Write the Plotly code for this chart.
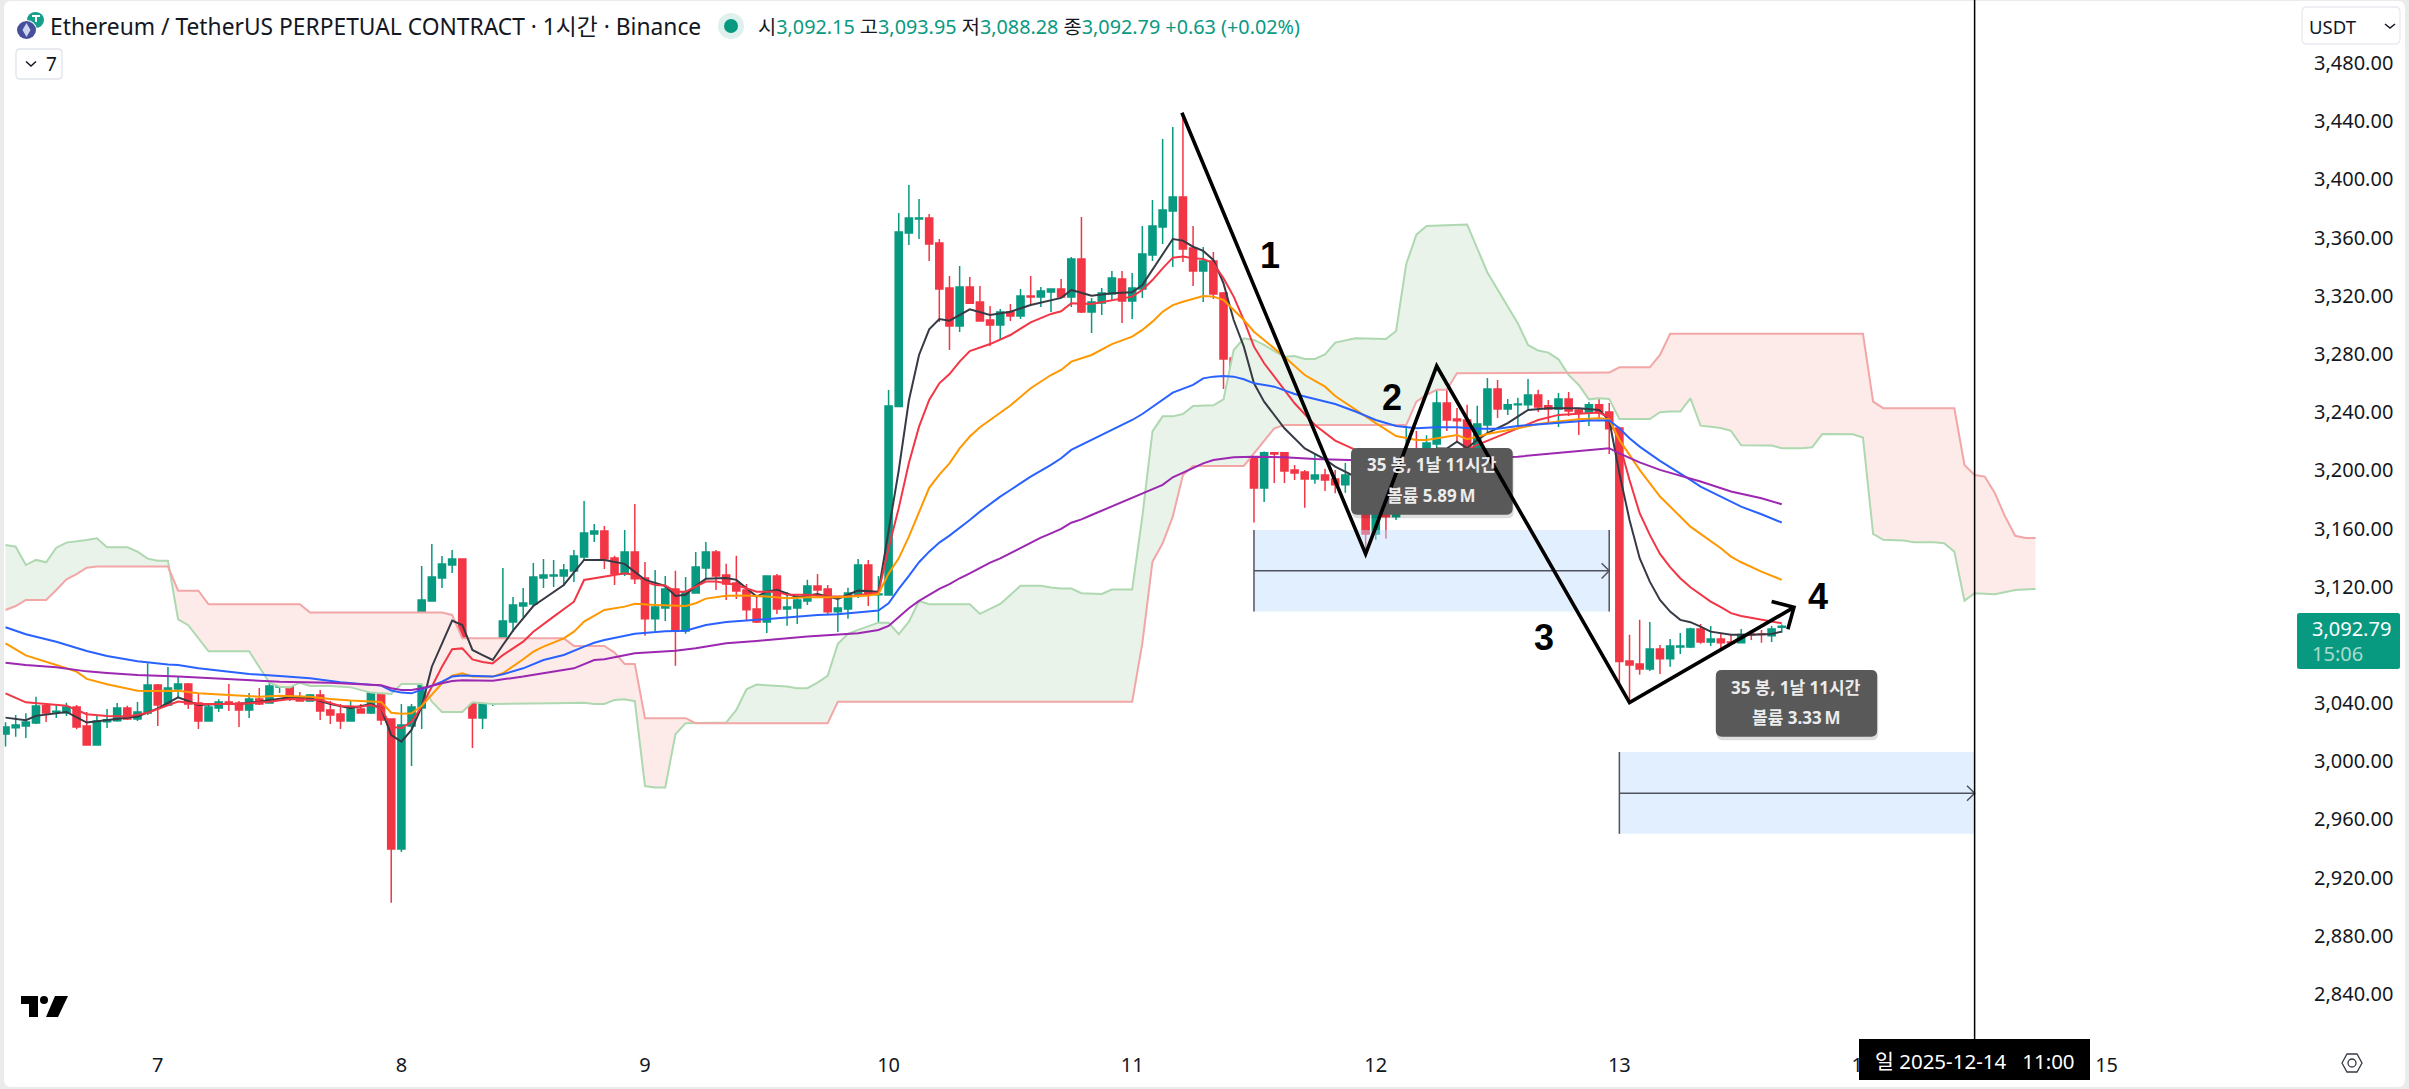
import plotly.graph_objects as go

# Hours are counted from 2025-12-08 00:00 (tick label "8")
opens = [
    3018.8, 3023.1, 3024.3, 3026.3, 3038.2, 3033.9, 3033.4, 3037.3, 3024.3, 3011.2,
    3027.2, 3027.9, 3036.6, 3029.1, 3033.2, 3052.4, 3038.7, 3049.7, 3053.1, 3040.1,
    3027.7, 3036.6, 3040.8, 3040.1, 3035.3, 3042.8, 3040.1, 3051.1, 3051.8, 3044.2,
    3041.5, 3045.6, 3035.3, 3032.5, 3027.7, 3036, 3033.2, 3047, 3029.1, 2939.7,
    3024.3, 3036.6, 3110.2, 3126, 3134.9, 3139, 3083.4, 3029.8, 3056.6, 3060,
    3095.7, 3106.7, 3108.1, 3126, 3127.4, 3127.4, 3130.8, 3140.4, 3156.2, 3158.3,
    3139.8, 3128.8, 3143.9, 3126, 3097.9, 3105.4, 3118.5, 3089.6, 3115.7, 3132.9,
    3143.9, 3128.1, 3122.6, 3117.8, 3104.7, 3095.8, 3127.4, 3104.7, 3105.4, 3110.2,
    3120.5, 3118.5, 3102.7, 3104.7, 3115, 3135, 3114.4, 3114.3, 3243.8, 3363.1,
    3372.8, 3373.4, 3356.3, 3325.3, 3299.2, 3326, 3315.7, 3303.3, 3299.9, 3308.8,
    3306.1, 3319.8, 3319.1, 3322.6, 3324.6, 3319.1, 3345.3, 3308.8, 3315, 3321.2,
    3331.5, 3316.4, 3324.6, 3348, 3367.3, 3378.3, 3387.9, 3352.8, 3337, 3343.9,
    3321.9, 3277.2, 3252.5, 3209.2, 3187.9, 3212, 3212, 3200.3, 3198.9, 3194.1,
    3196.8, 3194.1, 3190, 3196.8, 3182, 3156.3, 3178, 3168, 3183, 3198,
    3193, 3218.1, 3246.3, 3235.3, 3234.6, 3214, 3231.2, 3255.9, 3242.2, 3245,
    3245, 3251.8, 3244.3, 3242.2, 3249.1, 3241.5, 3239.5, 3245, 3240.1, 3229.1,
    3069, 3066.9, 3063.5, 3077.2, 3070.4, 3078.6, 3078.6, 3091, 3082, 3084.1,
    3082, 3081.4, 3087.5, 3087.5, 3086.2, 3092.15,
]
highs = [
    3026.8, 3031.8, 3033, 3044.4, 3039.8, 3038, 3040.3, 3038.7, 3033.9, 3031.1,
    3036, 3040.1, 3038.2, 3040.8, 3067.3, 3053.1, 3064.8, 3058.2, 3053.8, 3046.3,
    3038.7, 3042.6, 3053.1, 3041.5, 3047, 3050.4, 3055.9, 3054.5, 3055.9, 3047.6,
    3046.3, 3049, 3041.5, 3039.4, 3042.1, 3039.4, 3049, 3052.4, 3029.5, 3039.4,
    3039.4, 3134.2, 3149.4, 3141.1, 3145.2, 3139.5, 3083.8, 3062.8, 3075.1, 3132.9,
    3112.9, 3119.1, 3136.3, 3139, 3138.4, 3135.6, 3145.2, 3178.9, 3163.1, 3161.8,
    3141.2, 3159, 3176.9, 3137, 3131.5, 3127.4, 3130.9, 3126.7, 3143.9, 3150.8,
    3145.3, 3135.7, 3141.2, 3121.9, 3114.4, 3127.4, 3128.8, 3116.4, 3114.4, 3124.7,
    3128.8, 3121.2, 3110.9, 3119.2, 3139.1, 3138.4, 3127.4, 3255.2, 3376.9, 3396.1,
    3386.5, 3376.2, 3359, 3333.6, 3340.5, 3332.9, 3326.7, 3313, 3310.9, 3314.3,
    3324.6, 3333.6, 3326, 3324.8, 3331.5, 3346.6, 3374.1, 3318.5, 3325.3, 3337,
    3337, 3335.6, 3367.9, 3385.8, 3427.7, 3436, 3443, 3367.9, 3353.5, 3350.1,
    3322.5, 3277.9, 3253.9, 3209.5, 3212.9, 3212.6, 3212.6, 3203.7, 3200.3, 3211.3,
    3201, 3200.3, 3205.1, 3198, 3184, 3181, 3185, 3188, 3231.2, 3227.1,
    3224.1, 3270, 3255.3, 3242.9, 3245, 3244.3, 3263.5, 3262.1, 3249.1, 3249.8,
    3262.8, 3255.3, 3248.4, 3253.2, 3253.9, 3242.9, 3247, 3249.8, 3246.3, 3230,
    3086.9, 3097.2, 3095.8, 3080, 3084.1, 3088.2, 3091.7, 3094.4, 3093, 3087.5,
    3086.9, 3091, 3090.3, 3090.3, 3093, 3093.95,
]
lows = [
    3010.1, 3016.9, 3016, 3025.6, 3027, 3029.8, 3031.1, 3022, 3011.2, 3011.2,
    3022.9, 3027.2, 3028.4, 3027.7, 3031.8, 3024.3, 3038, 3043.5, 3036, 3022.2,
    3027.7, 3033.9, 3034.6, 3023.6, 3029.8, 3038.7, 3040.1, 3047, 3041.5, 3041.5,
    3041.5, 3028.4, 3025.6, 3022.2, 3027.7, 3033.2, 3032.5, 3025, 2902.8, 2937.7,
    2996.8, 3022.2, 3110.2, 3119.1, 3129.4, 3066.2, 3009.2, 3022.2, 3038, 3059.3,
    3088.9, 3099.2, 3106.1, 3119.1, 3119.8, 3120.5, 3123.2, 3138.4, 3150.7, 3132.2,
    3121.2, 3127.4, 3121.9, 3086.2, 3089.6, 3096.5, 3065.6, 3087.6, 3115.7, 3124.7,
    3117.8, 3110.9, 3111.6, 3096.5, 3095.1, 3088.2, 3101.3, 3093.1, 3094.4, 3107.5,
    3114.4, 3101.3, 3088.9, 3097.9, 3112.3, 3106.8, 3095.8, 3113.7, 3243.8, 3354.9,
    3359, 3343.9, 3302, 3282.7, 3295.1, 3314.3, 3302.7, 3285.5, 3289.6, 3302.7,
    3304, 3313, 3312.3, 3308.8, 3318.5, 3312.3, 3308.2, 3294.4, 3306.8, 3316.4,
    3301.3, 3304, 3318.5, 3343.9, 3355.6, 3339.8, 3343.2, 3326.7, 3315.7, 3317.8,
    3255.9, 3240.8, 3204.4, 3164.1, 3178.3, 3191.3, 3191.3, 3193.4, 3174.2, 3190.7,
    3185.8, 3184.2, 3184.5, 3178, 3142.5, 3152.2, 3152.9, 3165.9, 3177, 3186,
    3188, 3212, 3227.1, 3220.2, 3205, 3208, 3225, 3236, 3238.1, 3229.8,
    3242.2, 3240.1, 3231.9, 3229.8, 3237.4, 3224.3, 3230.5, 3235.3, 3211.3, 3053.6,
    3041, 3059.4, 3062.1, 3060, 3064.9, 3073.8, 3077.9, 3080.7, 3079.3, 3077.9,
    3080.7, 3081.4, 3083.4, 3081.4, 3082, 3088.28,
]
closes = [
    3023.6, 3025, 3027, 3038, 3033.2, 3034.4, 3037.3, 3023.6, 3011.2, 3027.7,
    3028.6, 3036.6, 3029.1, 3033.9, 3052.4, 3038.7, 3050.4, 3053.1, 3039.4, 3027.7,
    3037.3, 3040.8, 3039.4, 3035.3, 3042.8, 3039.4, 3051.8, 3051.8, 3042.8, 3041.5,
    3045.6, 3034.6, 3031.8, 3027.7, 3036, 3033.2, 3047, 3028.4, 2939.7, 3025,
    3037.3, 3110.9, 3126.7, 3135.6, 3139, 3082.7, 3029.8, 3057.9, 3060.7, 3096.4,
    3107.4, 3108.8, 3126.7, 3128.1, 3128.1, 3131.5, 3141.1, 3156.9, 3158.3, 3139.1,
    3128.8, 3143.9, 3125.4, 3097.9, 3106.1, 3118.5, 3089.6, 3116.4, 3133.6, 3143.9,
    3127.4, 3121.9, 3117.1, 3104.1, 3095.8, 3127.4, 3104.7, 3106.1, 3110.9, 3120.5,
    3117.8, 3102.7, 3105.4, 3115.7, 3135, 3114.4, 3115, 3244.2, 3363.8, 3373.4,
    3373.4, 3355.6, 3324.6, 3299.2, 3326, 3314.8, 3302.7, 3299.9, 3308.8, 3306.1,
    3319.8, 3319.1, 3323.3, 3324.6, 3319.1, 3345.3, 3308.8, 3315.7, 3321.9, 3332.2,
    3316.4, 3325.3, 3348.7, 3367.9, 3378.9, 3387.9, 3352.1, 3337, 3343.9, 3321.2,
    3276.5, 3251.8, 3208.5, 3187.9, 3212, 3211.3, 3199.6, 3198.2, 3194.1, 3196.8,
    3193.4, 3190, 3196.8, 3182, 3156.3, 3178, 3168, 3183, 3198, 3193,
    3218.8, 3246.3, 3234.6, 3234, 3214, 3231.9, 3255.9, 3242.2, 3245, 3245.6,
    3251.8, 3243.6, 3242.2, 3249.1, 3240.8, 3239.5, 3245, 3239.5, 3228.5, 3068.5,
    3066.2, 3063.5, 3077.2, 3070.4, 3079.3, 3079.3, 3091, 3082, 3084.1, 3081.4,
    3081.4, 3087.1, 3086.9, 3087.1, 3091, 3092.79,
]
bar_hours = list(range(-39, 137))
assert len(opens) == len(highs) == len(lows) == len(closes) == len(bar_hours)

black_hours = [
    -39, -37, -36, -33, -31, -29, -26, -24, -22, -20, -18, -16, -14, -11, -9, -7, -5, -3, -2, -1,
    0, 1, 2, 3, 4, 5, 6, 7, 8, 9, 10, 11, 13, 16, 18, 19, 20, 22, 24, 26,
    27, 28, 29, 30, 32, 33, 35, 36, 37, 39, 41, 43, 45, 47, 48, 49, 50, 51, 52, 53,
    54, 56, 58, 60, 62, 65, 66, 68, 70, 72, 73, 74, 75, 76, 77, 78, 79, 80, 81, 82,
    83, 84, 85, 87, 89, 91, 92, 93, 95, 98, 101, 102, 103, 104, 105, 106, 107, 109, 111, 113,
    116, 118, 119, 120, 121, 122, 123, 124, 125, 126, 127, 128, 129, 131, 133, 135, 136,
]
black_values = [
    3030, 3028.2, 3031.2, 3033.9, 3026.6, 3028.4, 3030.7, 3036.4, 3044, 3038.7, 3039.4, 3039.4, 3041, 3044, 3043.5, 3039.4, 3036.4, 3039.4, 3036.4, 3018,
    3013.5, 3021.5, 3037.6, 3065, 3081, 3096.7, 3093.7, 3076.5, 3073, 3069.6, 3079.9, 3089.8, 3106.7, 3121.2, 3138.4, 3138.4, 3138.4, 3135.7, 3124.7, 3120.5,
    3113.7, 3114.4, 3120.5, 3125.4, 3126, 3124.7, 3113.2, 3116.6, 3117.8, 3112.8, 3115, 3111.6, 3117.3, 3116.6, 3159, 3200, 3248, 3279.3, 3296.9, 3304,
    3302.9, 3310.7, 3306.8, 3309, 3313.6, 3318.5, 3324, 3320, 3321.7, 3322.4, 3327.4, 3337.7, 3348, 3359, 3357.9, 3353.7, 3350.8, 3344.6, 3328.5, 3303.3,
    3285, 3259.8, 3247.2, 3228.9, 3215.1, 3207.6, 3202.5, 3199.1, 3192, 3186, 3205, 3215, 3215, 3219.7, 3215.2, 3220.9, 3225.5, 3232.4, 3241.5, 3242.7,
    3242.7, 3241.5, 3234.6, 3198, 3165.9, 3139.6, 3123.5, 3110.9, 3102.9, 3097.2, 3095.6, 3092.6, 3089.1, 3086.9, 3086.9, 3087.5, 3089.1,
]
red_hours = [
    -39, -37, -33, -31, -29, -27, -25, -23, -22, -20, -16, -13, -11, -8, -6, -4, -3, -2, -1, 0,
    1, 2, 3, 4, 5, 6, 7, 8, 9, 10, 12, 13, 15, 17, 18, 19, 20, 22, 23, 24,
    25, 26, 27, 28, 29, 30, 31, 33, 35, 37, 38, 40, 42, 44, 47, 48, 49, 50, 51, 52,
    53, 54, 55, 56, 58, 60, 62, 64, 65, 66, 68, 70, 72, 73, 74, 75, 76, 77, 78, 79,
    80, 81, 82, 83, 84, 85, 87, 88, 90, 92, 94, 96, 100, 103, 105, 106, 108, 110, 112, 114,
    118, 119, 120, 121, 122, 123, 124, 125, 126, 127, 128, 129, 130, 131, 132, 134, 136,
]
red_values = [
    3046.7, 3040.5, 3038.2, 3032.3, 3031.1, 3030.7, 3033.4, 3038.2, 3041, 3039.4, 3039.4, 3041, 3042.8, 3042.1, 3038, 3037.5, 3038.7, 3036.4, 3023.8, 3022.7,
    3027.2, 3037.6, 3051.3, 3065, 3077, 3077.6, 3070, 3068.3, 3067.3, 3073, 3082.2, 3089, 3099.4, 3109.7, 3124.6, 3125.8, 3126.5, 3129.3, 3128.1, 3123.5,
    3121.2, 3120.8, 3116.6, 3116.6, 3120.1, 3123.5, 3123.5, 3121.2, 3116.6, 3116.6, 3114.4, 3114.4, 3113.2, 3113.2, 3116, 3146.4, 3174, 3205, 3230, 3248.4,
    3259.8, 3266.2, 3274.7, 3282, 3286.8, 3293, 3301.7, 3307.5, 3309.3, 3314.8, 3314.3, 3317.1, 3319.4, 3324, 3330.8, 3338.8, 3346.2, 3346.9, 3345.7, 3345.3,
    3342.3, 3332, 3319.4, 3303.3, 3285, 3273.6, 3255.2, 3246.1, 3231.2, 3220.4, 3214, 3208, 3205, 3212, 3214, 3217.5, 3223.2, 3228.9, 3234.6, 3238.1,
    3239.7, 3236.5, 3218.6, 3193.4, 3170.5, 3155.6, 3142.5, 3133.4, 3125.8, 3119.6, 3114.4, 3109.8, 3105.9, 3101.8, 3099.9, 3097.2, 3094.9,
]
orange_hours = [
    -39, -37, -34, -32, -31, -29, -26, -25, -22, -20, -17, -14, -12, -9, -7, -5, -2, -1, 0, 1,
    2, 3, 4, 5, 6, 7, 8, 9, 10, 11, 12, 13, 14, 16, 17, 18, 19, 20, 22, 23,
    25, 28, 29, 30, 32, 34, 36, 38, 40, 43, 46, 47, 48, 49, 50, 51, 52, 53, 54, 55,
    56, 57, 59, 60, 62, 64, 65, 66, 68, 70, 72, 73, 74, 75, 76, 77, 79, 80, 81, 82,
    83, 84, 85, 87, 89, 91, 92, 94, 96, 98, 100, 101, 103, 104, 105, 107, 110, 112, 114, 116,
    118, 119, 120, 121, 122, 124, 126, 127, 128, 130, 131, 132, 134, 136,
]
orange_values = [
    3081.1, 3072.8, 3066.2, 3061.6, 3056.6, 3052.9, 3048.5, 3048.3, 3048.5, 3046.7, 3045.6, 3044.4, 3045.1, 3044.4, 3042.8, 3041.7, 3040.8, 3033.4, 3032.7, 3033,
    3038, 3045.6, 3053.6, 3058.9, 3060.5, 3058.2, 3058.2, 3058.2, 3060.5, 3065, 3070.1, 3075.4, 3078.8, 3084.5, 3089.1, 3096, 3100.1, 3104, 3106.3, 3108.2,
    3107.5, 3106.8, 3108.6, 3111.8, 3113.7, 3113.9, 3113.2, 3112, 3112.8, 3112.8, 3113.9, 3115, 3129, 3139.5, 3154.4, 3171, 3188, 3197, 3204.8, 3215.1,
    3223.2, 3229.6, 3239.6, 3244.5, 3256.4, 3265.5, 3269, 3274.7, 3279.3, 3286.8, 3291.9, 3296.5, 3302.2, 3309, 3313.6, 3315.9, 3319.8, 3319.4, 3317.1, 3310.2,
    3303.3, 3295.3, 3289.6, 3278.1, 3265.5, 3257.5, 3251.1, 3241.5, 3232.4, 3223.6, 3220.9, 3220.9, 3223.2, 3224.3, 3221.4, 3225, 3228.9, 3231.9, 3233.5, 3235.1,
    3235.8, 3235.1, 3220.9, 3210.6, 3200.3, 3182, 3168.2, 3161.3, 3156.3, 3146.4, 3140.7, 3136.8, 3130.4, 3124.7,
]
blue_hours = [
    -39, -37, -34, -31, -29, -26, -23, -22, -20, -17, -15, -12, -9, -6, -2, -1, 0, 1, 2, 3,
    4, 5, 6, 8, 9, 10, 12, 14, 16, 18, 19, 20, 23, 26, 28, 30, 32, 35, 38, 41,
    43, 47, 48, 49, 50, 51, 52, 53, 54, 55, 56, 57, 58, 59, 60, 62, 64, 65, 66, 68,
    70, 72, 73, 74, 75, 76, 78, 79, 80, 81, 82, 83, 84, 86, 88, 90, 92, 94, 96, 98,
    100, 102, 104, 106, 108, 110, 112, 114, 117, 119, 120, 121, 122, 124, 126, 127, 128, 130, 131, 132,
    134, 136,
]
blue_values = [
    3092.1, 3087.3, 3082.2, 3075.8, 3072.4, 3068.7, 3066.6, 3066.2, 3063.9, 3061.6, 3060, 3058.6, 3057, 3054.3, 3052, 3048.6, 3047.2, 3046.7, 3049, 3051.8,
    3054.7, 3058.2, 3058.9, 3058.2, 3058.2, 3059.8, 3063.9, 3069.6, 3073.1, 3078.8, 3081.5, 3083.4, 3087.6, 3089.4, 3089.8, 3093.7, 3095.8, 3097.2, 3098.8, 3100.6,
    3101.1, 3103.6, 3108.6, 3118.5, 3127.4, 3136.8, 3144.1, 3150.3, 3155.1, 3160.2, 3165.9, 3171.6, 3176.9, 3181.9, 3186.5, 3195.7, 3203.7, 3208.3, 3214, 3220.9,
    3228.2, 3234.6, 3238.7, 3243.8, 3248.8, 3253.4, 3258.7, 3263.2, 3264.4, 3264.9, 3264.4, 3262.6, 3259.8, 3257.5, 3252.5, 3248.8, 3245.6, 3240.4, 3234.6, 3230.5,
    3228.9, 3229.6, 3229.6, 3228.5, 3228.5, 3230.5, 3231.7, 3232.8, 3234.2, 3234.2, 3228.9, 3222, 3216.3, 3206.5, 3198, 3193.4, 3188.8, 3182, 3178.5, 3175,
    3169.8, 3164.1,
]
purple_hours = [
    -39, -37, -34, -31, -29, -26, -22, -17, -12, -7, -2, -1, 0, 1, 2, 4, 5, 6, 8, 9,
    12, 15, 17, 19, 20, 23, 27, 29, 32, 35, 40, 45, 47, 48, 49, 50, 51, 52, 53, 54,
    55, 56, 57, 58, 59, 60, 61, 62, 63, 64, 65, 66, 67, 68, 69, 70, 71, 72, 73, 75,
    76, 77, 79, 80, 82, 84, 87, 90, 93, 95, 110, 116, 119, 120, 122, 124, 126, 128, 131, 134,
    136,
]
purple_values = [
    3067.8, 3066.2, 3064.6, 3061.8, 3060.7, 3059.3, 3058.2, 3056.3, 3054.7, 3054, 3052.2, 3050.2, 3049, 3049, 3050.2, 3053.6, 3055.2, 3055.7, 3055.4, 3055.4,
    3058.2, 3061.6, 3063.9, 3069.6, 3070.1, 3074.3, 3075.9, 3077.7, 3081.1, 3082.7, 3085.7, 3088, 3090.3, 3093, 3099.4, 3105.2, 3110.2, 3114.3, 3118.5, 3121.7,
    3125.8, 3129.2, 3132.7, 3136.6, 3139.5, 3143, 3146.4, 3150.3, 3153.7, 3156.7, 3159.7, 3164, 3166.3, 3169.3, 3172.3, 3175, 3178, 3180.8, 3184.2, 3190,
    3195.2, 3198.4, 3204.8, 3207.1, 3209, 3209.4, 3209, 3207.8, 3207.1, 3206.7, 3209.4, 3213.6, 3215.2, 3211.7, 3205.5, 3200.3, 3196.4, 3192.3, 3185.4, 3180.8,
    3176.7,
]

# Ichimoku cloud edges
span_a_hours = [
    -39, -38, -37, -36, -35, -34, -33, -32, -31, -30, -29, -27, -26, -25, -24, -23, -22, -21, -19, -15,
    -13, -12, -11, -10, -9, -7, -5, -3, -1, 0, 2, 3, 4, 6, 7, 9, 12, 15, 18, 19,
    20, 21, 22, 23, 24, 25, 26, 27, 28, 29, 31, 32, 33, 34, 35, 38, 39, 40, 41, 42,
    43, 44, 45, 46, 47, 48, 49, 50, 51, 52, 56, 57, 58, 59, 60, 61, 63, 64, 65, 66,
    67, 69, 70, 72, 73, 74, 75, 76, 77, 78, 80, 81, 82, 83, 84, 85, 86, 87, 88, 89,
    90, 91, 92, 93, 94, 97, 98, 99, 100, 101, 105, 107, 109, 110, 111, 112, 113, 114, 115, 116,
    117, 118, 119, 120, 123, 124, 125, 126, 127, 128, 129, 130, 131, 132, 135, 136, 138, 139, 140, 143,
    144, 145, 146, 148, 149, 151, 152, 153, 154, 155, 157, 159, 161,
]
span_a_values = [
    3148.7, 3147.5, 3134.9, 3138.4, 3136.8, 3146.8, 3150.3, 3151, 3152.1, 3153.3, 3147.1, 3147.1, 3144.1, 3139.3, 3137.9, 3137.9, 3097.6, 3093.5, 3075.6, 3075.6,
    3054, 3051.3, 3050.8, 3054, 3051.8, 3051.8, 3050.8, 3047.2, 3046.3, 3053.1, 3053.1, 3041, 3033.9, 3033.9, 3040.5, 3039.4, 3039.4, 3039.8, 3040.3, 3039.4,
    3039.4, 3042.2, 3042.6, 3041.3, 2983, 2982, 2982, 3018.6, 3026.2, 3026.2, 3026.2, 3026.6, 3035.3, 3049.5, 3052.7, 3051.4, 3050.2, 3050.2, 3054.1, 3058.7,
    3080.7, 3087.6, 3090.3, 3092.6, 3095.3, 3095.3, 3087.3, 3096, 3110.2, 3107.9, 3107.9, 3101.3, 3104.5, 3108.1, 3114.3, 3120.7, 3120.7, 3119.4, 3118.7, 3118.7,
    3115.5, 3115, 3118, 3118, 3168.2, 3226.8, 3237.1, 3237.1, 3238.7, 3244.2, 3244.7, 3248.8, 3282.7, 3290.7, 3289.6, 3286.2, 3282, 3278.1, 3278.6, 3276.5,
    3276.5, 3279.7, 3287.8, 3289.1, 3290.7, 3290.3, 3295.8, 3341.8, 3362, 3368, 3369, 3336, 3313, 3301, 3286.2, 3282.3, 3280.9, 3276.3, 3265.6, 3258.7,
    3248.8, 3249.5, 3249.1, 3235.3, 3235.3, 3239.9, 3240.4, 3240.4, 3249.5, 3230.7, 3230, 3229.1, 3227.1, 3217.2, 3217, 3215.2, 3215.2, 3215.9, 3225, 3224.8,
    3222.5, 3156.3, 3152.2, 3151.7, 3150.6, 3150.6, 3149.9, 3144.1, 3110.4, 3115.5, 3114.8, 3117.8, 3118.5,
]
span_b_hours = [
    -39, -38, -37, -35, -34, -33, -32, -31, -30, -23, -22, -20, -19, -10, -9, 4, 5, 6, 16, 17,
    20, 21, 22, 23, 24, 28, 29, 42, 43, 72, 73, 74, 75, 76, 77, 78, 83, 84, 85, 86,
    87, 99, 100, 101, 102, 103, 104, 119, 120, 123, 124, 125, 144, 145, 146, 153, 154, 155, 156, 157,
    158, 159, 160, 161,
]
span_b_values = [
    3104, 3106.7, 3110.9, 3110.9, 3117.7, 3125, 3128.7, 3133.1, 3133.8, 3133.8, 3117.3, 3117.3, 3107.9, 3107.9, 3102.2, 3102.2, 3100.6, 3084.5, 3084.5, 3079.3,
    3079.3, 3074.7, 3066.9, 3066.9, 3029.6, 3029.6, 3026.2, 3026.2, 3041, 3041, 3081, 3137.2, 3149.8, 3168.2, 3196.8, 3203, 3203, 3211.7, 3219.7, 3228.9,
    3231.2, 3231.2, 3247.2, 3251.8, 3255.3, 3255.3, 3266.7, 3267.2, 3270.8, 3270.8, 3279.3, 3293.8, 3293.8, 3247.2, 3242.7, 3242.7, 3203.7, 3196.8, 3195.7, 3184.2,
    3168.2, 3155, 3153.5, 3153.5,
]
# where the two spans cross: (hour, price)
cloud_twists = [(-39, None), (-22.83, 3131), (29, 3026.2), (32, 3026.4), (114.88, 3267), (161, None)]

# Manual drawings
zigzag_hours = [76.9, 95, 102, 121, 137.2]
zigzag_prices = [3445.8, 3142.5, 3271.7, 3040.3, 3105.8]
range_hours = [(84, 119), (120, 155)]
range_prices = [(3102.9, 3159), (2950.1, 3006.4)]
range_mid_prices = [3130.9, 2978]
note_boxes = [(93.56, 109.49, 3169.5, 3215.4), (129.5, 145.4, 3016.9, 3062.7)]
note_lines = [
    ("35 봉, 1날 11시간", "볼륨 5.89\u2009M", 101.5, 3203.7, 3182.6),
    ("35 봉, 1날 11시간", "볼륨 3.33\u2009M", 137.45, 3051, 3030.4),
]
wave_labels = ["1", "2", "3", "4"]
wave_hours = [85.6, 97.6, 112.6, 139.6]
wave_prices = [3348, 3250, 3085.4, 3113]
crosshair_hour = 155

day_hours = [-24, 0, 24, 48, 72, 96, 120, 144, 168]
day_labels = ["7", "8", "9", "10", "11", "12", "13", "14", "15"]
price_ticks = [3480, 3440, 3400, 3360, 3320, 3280, 3240, 3200, 3160, 3120, 3040, 3000, 2960, 2920, 2880, 2840]

UP = "#089981"
DOWN = "#f23645"
TEXT = "#131722"
W, H = 2409, 1089
M_L, M_R, M_B = 3, 104, 49
FONT = "Noto Sans, Noto Sans CJK KR"


def fx(x):
    return (x - M_L) / (W - M_L - M_R)


def fy(y):
    return 1 - y / (H - M_B)


def box_path(x0, x1, y0, y1, rx, ry):
    return (
        f"M {x0 + rx},{y0} L {x1 - rx},{y0} Q {x1},{y0} {x1},{y0 + ry} L {x1},{y1 - ry} "
        f"Q {x1},{y1} {x1 - rx},{y1} L {x0 + rx},{y1} Q {x0},{y1} {x0},{y1 - ry} "
        f"L {x0},{y0 + ry} Q {x0},{y0} {x0 + rx},{y0} Z"
    )


def poly_path(points):
    return "M " + " L ".join(f"{x},{y}" for x, y in points)


def px_shape(kind, x0, y0, x1, y1, **kw):
    return dict(type=kind, xref="paper", yref="paper", x0=fx(x0), x1=fx(x1), y0=fy(y0), y1=fy(y1), **kw)


def px_path(points, close=False, **kw):
    path = poly_path([(fx(x), fy(y)) for x, y in points]) + (" Z" if close else "")
    return dict(type="path", xref="paper", yref="paper", path=path, **kw)


def cloud_region(start, end, color):
    h0, p0 = start
    h1, p1 = end
    a = [(h, v) for h, v in zip(span_a_hours, span_a_values) if h0 <= h <= h1]
    b = [(h, v) for h, v in zip(span_b_hours, span_b_values) if h0 <= h <= h1]
    pts = ([(h0, p0)] if p0 else []) + a + ([(h1, p1)] if p1 else []) + b[::-1]
    return go.Scatter(
        x=[p[0] for p in pts], y=[p[1] for p in pts], mode="lines", fill="toself",
        fillcolor=color, line=dict(width=0), hoverinfo="skip",
    )


fig = go.Figure()

fig.add_trace(cloud_region(cloud_twists[0], cloud_twists[1], "#eaf3ea"))
fig.add_trace(cloud_region(cloud_twists[1], cloud_twists[2], "#fdebea"))
fig.add_trace(cloud_region(cloud_twists[3], cloud_twists[4], "#eaf3ea"))
fig.add_trace(cloud_region(cloud_twists[4], cloud_twists[5], "#fdebea"))
fig.add_trace(go.Scatter(x=span_a_hours, y=span_a_values, mode="lines", line=dict(color="#aed8b0", width=2), hoverinfo="skip"))
fig.add_trace(go.Scatter(x=span_b_hours, y=span_b_values, mode="lines", line=dict(color="#f2a6a6", width=2), hoverinfo="skip"))

for hours, values, color, width in [
    (black_hours, black_values, "#363a45", 2),
    (red_hours, red_values, "#f23645", 2),
    (orange_hours, orange_values, "#ff9800", 2),
    (blue_hours, blue_values, "#2962ff", 2),
    (purple_hours, purple_values, "#9c27b0", 2),
]:
    fig.add_trace(go.Scatter(x=hours, y=values, mode="lines", line=dict(color=color, width=width), hoverinfo="skip"))

fig.add_trace(go.Candlestick(
    x=bar_hours, open=opens, high=highs, low=lows, close=closes,
    increasing=dict(line=dict(color=UP, width=1.5), fillcolor=UP),
    decreasing=dict(line=dict(color=DOWN, width=1.5), fillcolor=DOWN),
    whiskerwidth=0, hoverinfo="skip",
))

shapes = [
    # white card on the grey page
    dict(type="path", xref="paper", yref="paper", layer="below", fillcolor="white", line=dict(width=0),
         path=box_path(fx(4), fx(2405), fy(1087), fy(1), 0.003, 0.008)),
]

# shaded time ranges with their arrows
for (h0, h1), (p0, p1), mid in zip(range_hours, range_prices, range_mid_prices):
    shapes.append(dict(type="rect", x0=h0, x1=h1, y0=p0, y1=p1, fillcolor="rgba(190,220,255,0.46)", line=dict(width=0)))
    shapes.append(dict(type="line", x0=h0, x1=h0, y0=p0, y1=p1, line=dict(color="#50535e", width=1.5)))
    shapes.append(dict(type="line", x0=h0, x1=h1, y0=mid, y1=mid, line=dict(color="#50535e", width=1.5)))
    shapes.append(dict(type="path", path=poly_path([(h1 - 0.75, mid + 5.2), (h1, mid), (h1 - 0.75, mid - 5.2)]),
                       line=dict(color="#50535e", width=1.5)))
shapes.append(dict(type="line", x0=range_hours[0][1], x1=range_hours[0][1], y0=range_prices[0][0], y1=range_prices[0][1],
                   line=dict(color="#50535e", width=1.5)))

# grey notes, the zigzag runs over them
for x0, x1, y0, y1 in note_boxes:
    shapes.append(dict(type="path", path=box_path(x0 + 0.1, x1 + 0.1, y0 - 2.5, y1 - 1, 0.6, 4), fillcolor="rgba(0,0,0,0.13)", line=dict(width=0)))
    shapes.append(dict(type="path", path=box_path(x0, x1, y0, y1, 0.6, 4), fillcolor="#595959", line=dict(width=0)))

shapes.append(dict(type="path", path=poly_path(list(zip(zigzag_hours, zigzag_prices))), line=dict(color="black", width=3.6)))
shapes.append(dict(type="path", path=poly_path([(135, 3109.8), (zigzag_hours[-1], zigzag_prices[-1]), (136.6, 3090.8)]),
                   line=dict(color="black", width=3.6)))

# crosshair and its time label
shapes.append(dict(type="line", x0=crosshair_hour, x1=crosshair_hour, yref="paper", y0=0, y1=1, line=dict(color="black", width=1.5)))
shapes.append(px_shape("rect", 1859, 1039, 2090, 1080, fillcolor="black", line=dict(width=0)))

# last price label
shapes.append(dict(type="path", xref="paper", yref="paper", fillcolor=UP, line=dict(width=0),
                   path=box_path(fx(2297), fx(2400), fy(669), fy(613), 0.001, 0.002)))

# header widgets
shapes += [
    px_shape("circle", 27, 12, 44, 28, fillcolor="#14a08c", line=dict(width=0)),
    px_shape("circle", 16, 20, 37, 40, fillcolor="white", line=dict(width=0)),
    px_shape("circle", 17, 21, 36, 39, fillcolor="#454f9c", line=dict(width=0)),
    px_path([(26.5, 23), (30.5, 30), (26.5, 37), (22.5, 30)], close=True, fillcolor="#cfd4ee", line=dict(width=0)),
    px_path([(32, 15), (40, 15), (40, 17), (37, 17), (37, 22), (35, 22), (35, 17), (32, 17)], close=True, fillcolor="white", line=dict(width=0)),
    px_shape("circle", 718, 13, 744, 39, fillcolor="#dff1ed", line=dict(width=0)),
    px_shape("circle", 724, 19, 738, 33, fillcolor=UP, line=dict(width=0)),
    dict(type="path", xref="paper", yref="paper", fillcolor="white", line=dict(color="#e0e3eb", width=1.3),
         path=box_path(fx(16), fx(62), fy(79), fy(49), 0.0015, 0.004)),
    px_path([(26, 61.5), (31, 66), (36, 61.5)], line=dict(color=TEXT, width=1.5)),
    dict(type="path", xref="paper", yref="paper", fillcolor="white", line=dict(color="#e8eaf0", width=1.3),
         path=box_path(fx(2302), fx(2400), fy(44), fy(7), 0.002, 0.005)),
    px_path([(2385, 24), (2390, 28), (2395, 24)], line=dict(color=TEXT, width=1.5)),
    # chart logo
    px_path([(21, 996), (38, 996), (38, 1017), (29, 1017), (29, 1004), (21, 1004)], close=True, fillcolor="black", line=dict(width=0)),
    px_shape("circle", 40, 996, 48, 1004, fillcolor="black", line=dict(width=0)),
    px_path([(55, 996), (68, 996), (58, 1017), (46, 1017)], close=True, fillcolor="black", line=dict(width=0)),
    # settings
    px_path([(2342, 1063), (2347, 1054), (2357, 1054), (2362, 1063), (2357, 1072), (2347, 1072)], close=True, line=dict(color="#363a45", width=1.3)),
    px_shape("circle", 2348, 1059, 2356, 1067, line=dict(color="#363a45", width=1.3)),
]


def note(text, x, y, size=18, color="#131722", xanchor="left", family=FONT, paper=True):
    ann = dict(text=text, x=x, y=y, showarrow=False, xanchor=xanchor, yanchor="middle",
               font=dict(family=family, size=size, color=color), borderpad=0)
    if paper:
        ann.update(xref="paper", yref="paper", x=fx(x), y=fy(y))
    return ann


ohlc_parts = [("시", "3,092.15"), ("고", "3,093.95"), ("저", "3,088.28"), ("종", "3,092.79")]
ohlc_text = " ".join(f"<span style='color:{TEXT}'>{k}</span>{v}" for k, v in ohlc_parts) + " +0.63 (+0.02%)"

annotations = [
    note("Ethereum / TetherUS PERPETUAL CONTRACT · 1시간 · Binance", 49, 26, size=22.8),
    note(ohlc_text, 757, 26, size=19.8, color=UP),
    note("7", 45, 64, size=19),
    note("USDT", 2308, 26, size=18.5),
    note("3,092.79", 2311, 628, size=20, color="white"),
    note("15:06", 2311, 653, size=20, color="#a9dccf"),
    note("일 2025-12-14\u00a0\u00a0\u00a011:00", 1874, 1061, size=20.5, color="white"),
]
for label, h, p in zip(wave_labels, wave_hours, wave_prices):
    annotations.append(note(f"<b>{label}</b>", h, p, size=36, color="black", xanchor="center",
                            family="Liberation Sans", paper=False))
for line1, line2, h, p1, p2 in note_lines:
    annotations.append(note(f"<b>{line1}</b>", h, p1, size=17, color="#ececec", xanchor="center", paper=False))
    annotations.append(note(f"<b>{line2}</b>", h, p2, size=17, color="#ececec", xanchor="center", paper=False))

fig.update_layout(
    width=W, height=H,
    margin=dict(l=M_L, r=M_R, t=0, b=M_B, pad=0),
    paper_bgcolor="#ebebeb",
    plot_bgcolor="rgba(0,0,0,0)",
    showlegend=False,
    hovermode=False,
    boxgap=0.3,
    boxgroupgap=0,
    shapes=shapes,
    annotations=annotations,
    xaxis=dict(
        range=[-39.25, 187.55], rangeslider=dict(visible=False), showgrid=False, zeroline=False, showline=False,
        tickmode="array", tickvals=day_hours, ticktext=day_labels, ticks="outside", ticklen=7, tickcolor="rgba(0,0,0,0)",
        tickfont=dict(family=FONT, size=20, color=TEXT),
    ),
    yaxis=dict(
        side="right", range=[2808.4, 3523.3], showgrid=False, zeroline=False, showline=False,
        tickmode="array", tickvals=price_ticks, tickformat=",.2f", ticks="outside", ticklen=4, tickcolor="rgba(0,0,0,0)",
        tickfont=dict(family=FONT, size=20, color=TEXT),
    ),
)

fig.write_html("out.html", config=dict(displayModeBar=False),
               post_script="document.body.style.margin='0';document.body.style.overflow='hidden';")
